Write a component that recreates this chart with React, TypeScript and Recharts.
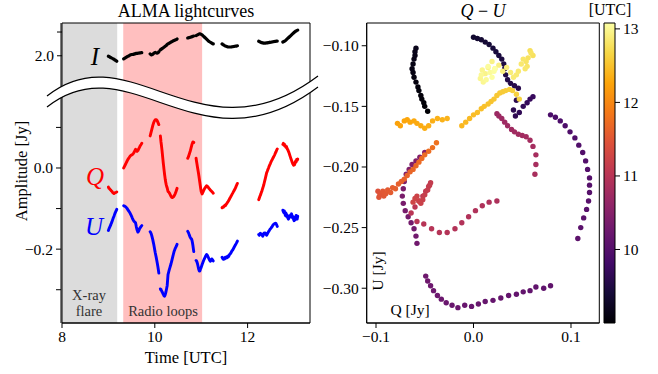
import React from 'react';
import { ComposedChart, ScatterChart, Scatter, Line, XAxis, YAxis, ZAxis, ReferenceArea } from 'recharts';

const SERIF = '"Liberation Serif", "DejaVu Serif", serif';

// UTC hours, one line per scan; the single values between scans are gap rows (null in every Stokes array)
const TIME = [
  9.0, 9.012, 9.024, 9.036, 9.048, 9.06, 9.072, 9.084, 9.096, 9.108, 9.12, 9.132, 9.144, 9.156, 9.168, 9.18,
  9.25,
  9.33, 9.347, 9.364, 9.381, 9.398, 9.415, 9.432, 9.449, 9.466, 9.483, 9.5, 9.517, 9.534, 9.551, 9.568, 9.585, 9.602, 9.619, 9.636, 9.653, 9.67, 9.687, 9.704, 9.72,
  9.8,
  9.9, 9.911, 9.922, 9.933, 9.944, 9.955, 9.966, 9.977, 9.988, 9.999, 10.01, 10.021, 10.032, 10.043, 10.054, 10.065, 10.076, 10.087,
  10.104,
  10.12, 10.127, 10.134, 10.141, 10.148, 10.155, 10.162, 10.169, 10.176, 10.183, 10.19, 10.197, 10.204, 10.211, 10.218, 10.225, 10.232, 10.239, 10.246, 10.253, 10.26, 10.267,
  10.285, 10.298, 10.311, 10.324, 10.337, 10.35, 10.363, 10.376, 10.389, 10.402, 10.415, 10.428, 10.441, 10.454, 10.467, 10.48,
  10.6,
  10.71, 10.719, 10.728, 10.737, 10.746, 10.756, 10.765, 10.774, 10.783, 10.792, 10.801, 10.81, 10.82, 10.83, 10.84,
  10.865,
  10.89, 10.9, 10.91, 10.92, 10.93, 10.94, 10.95, 10.96, 10.97, 10.98, 10.99, 11.0,
  11.02, 11.036, 11.052, 11.068, 11.084, 11.1, 11.116, 11.132, 11.148, 11.164, 11.18, 11.196, 11.212, 11.228, 11.244, 11.26,
  11.35,
  11.45, 11.464, 11.479, 11.493, 11.507, 11.521, 11.536, 11.55, 11.564, 11.579, 11.593, 11.607, 11.621, 11.636, 11.65, 11.664, 11.679, 11.693, 11.707, 11.721, 11.736, 11.75, 11.764, 11.78,
  12.0,
  12.24, 12.251, 12.262, 12.272, 12.283, 12.294, 12.305, 12.315, 12.326, 12.337, 12.348, 12.358, 12.369, 12.38,
  12.41, 12.424, 12.437, 12.451, 12.464, 12.478, 12.491, 12.505, 12.518, 12.532, 12.545, 12.559, 12.572, 12.586, 12.599, 12.613, 12.626, 12.64,
  12.7,
  12.76, 12.771, 12.782, 12.793, 12.804, 12.815, 12.826, 12.837, 12.848, 12.859, 12.87, 12.881, 12.892, 12.903, 12.914,
  12.925, 12.936, 12.947, 12.958, 12.969, 12.98, 12.991, 13.002, 13.013, 13.024, 13.035, 13.046, 13.057, 13.068, 13.08,
];

const STOKES_I = [
  1.998, 1.997, 1.996, 1.994, 1.993, 1.992, 1.99, 1.989, 1.988, 1.986, 1.985, 1.983, 1.982, 1.98, 1.979, 1.977,
  null,
  1.987, 1.989, 1.991, 1.993, 1.995, 1.997, 1.999, 2.001, 2.003, 2.004, 2.005, null, 2.006, 2.007, 2.008, 2.009, 2.01, 2.01, 2.011, 2.011, 2.012, 2.012, 2.013, 2.013,
  null,
  2.008, 2.006, 2.004, 2.004, 2.005, 2.006, 2.008, 2.01, 2.012, 2.013, 2.014, 2.013, 2.012, 2.011, 2.011, 2.012, 2.014, 2.017,
  null,
  2.025, 2.026, 2.027, 2.028, 2.029, 2.03, 2.031, 2.032, 2.033, 2.034, 2.035, 2.036, 2.037, 2.038, 2.039, 2.04, 2.041, 2.042, 2.043, 2.045, 2.046, 2.048,
  2.05, 2.052, 2.053, 2.055, 2.056, 2.058, 2.059, 2.06, 2.062, 2.063, 2.064, 2.065, 2.066, 2.068, 2.069, 2.071,
  null,
  2.075, 2.0755, 2.076, 2.0765, 2.077, 2.0775, 2.078, 2.0785, 2.079, 2.0795, 2.08, 2.081, 2.082, 2.0825, 2.083,
  null,
  2.085, 2.086, 2.087, 2.088, 2.089, 2.09, 2.091, 2.092, 2.092, null, 2.091, 2.09,
  2.088, 2.085, 2.082, 2.079, 2.076, 2.073, 2.07, 2.067, 2.064, 2.061, 2.059, 2.057, 2.055, 2.053, 2.051, 2.05,
  null,
  2.05, 2.048, 2.046, 2.044, 2.042, 2.041, 2.04, 2.039, 2.038, 2.037, 2.037, 2.037, 2.037, 2.037, 2.037, 2.038, 2.038, 2.039, 2.039, 2.04, 2.04, 2.041, 2.041, 2.042,
  null,
  2.061, 2.06, 2.059, 2.058, 2.057, 2.056, 2.055, 2.055, 2.054, 2.054, 2.053, 2.053, 2.053, 2.053,
  2.054, 2.054, 2.055, 2.055, 2.056, 2.056, 2.057, 2.057, 2.058, 2.058, 2.059, 2.059, 2.06, 2.06, 2.061, 2.061, 2.062, 2.062,
  null,
  2.058, 2.059, 2.06, 2.061, null, 2.064, 2.066, 2.068, 2.07, 2.072, 2.074, 2.076, 2.078, 2.08, 2.082,
  2.084, 2.086, 2.088, 2.09, 2.092, 2.094, 2.096, 2.098, 2.1, 2.102, 2.103, 2.104, 2.106, 2.107, 2.108,
];

const STOKES_Q = [
  -0.047, -0.05, -0.051, -0.053, -0.054, -0.056, -0.057, -0.059, -0.061, -0.062, -0.063, -0.062, -0.061, -0.06, -0.06, -0.059,
  null,
  0.0, 0.004, 0.008, 0.012, 0.016, 0.02, 0.023, 0.026, 0.029, 0.031, 0.032, 0.033, 0.035, 0.038, 0.042, 0.046, 0.044, 0.041, 0.043, 0.047, 0.051, 0.055, 0.058, 0.061,
  null,
  0.079, 0.084, 0.089, 0.094, 0.099, 0.104, 0.108, 0.112, 0.115, 0.117, 0.119, 0.119, 0.119, 0.118, 0.116, 0.113, 0.11, 0.107,
  null,
  0.079, 0.072, 0.064, 0.058, 0.051, 0.044, 0.036, 0.028, 0.02, 0.012, 0.005, -0.002, -0.009, -0.016, -0.022, -0.028, -0.033, -0.037, -0.041, -0.044, -0.047, -0.049,
  -0.058, -0.059, -0.061, -0.064, -0.067, -0.07, -0.072, -0.073, -0.072, -0.071, -0.069, -0.066, -0.063, -0.059, -0.055, -0.05,
  null,
  0.024, 0.026, 0.029, 0.032, 0.035, 0.039, 0.042, 0.046, 0.05, 0.054, 0.058, 0.061, 0.064, 0.064, 0.063,
  null,
  0.024, 0.016, 0.009, 0.002, -0.005, -0.012, -0.019, -0.027, -0.035, -0.043, -0.051, -0.058,
  -0.064, -0.06, -0.056, -0.052, -0.049, -0.046, -0.044, -0.045, -0.047, -0.05, -0.052, -0.054, -0.056, -0.058, -0.06, -0.062,
  null,
  -0.098, -0.096, -0.097, -0.094, -0.092, -0.093, -0.09, -0.088, -0.085, -0.083, -0.08, -0.077, -0.074, -0.071, -0.068, -0.065, -0.062, -0.059, -0.056, -0.053, -0.05, -0.046, -0.042, -0.038,
  null,
  -0.078, -0.075, -0.071, -0.068, -0.065, -0.061, -0.058, -0.054, -0.05, -0.046, -0.042, -0.037, -0.032, -0.027,
  -0.012, -0.008, -0.004, 0.0, 0.004, 0.008, 0.011, 0.015, 0.018, 0.021, 0.024, 0.027, 0.03, 0.033, 0.037, 0.04, 0.044, 0.047,
  null,
  0.058, 0.061, 0.056, 0.059, 0.054, 0.055, 0.051, 0.053, 0.049, 0.046, 0.044, 0.041, 0.038, 0.034, 0.03,
  0.026, 0.022, 0.019, 0.015, 0.012, 0.009, 0.007, 0.01, 0.008, 0.013, 0.017, 0.015, 0.021, 0.019, 0.022,
];

const STOKES_U = [
  -0.154, -0.15, -0.147, -0.144, -0.141, -0.137, -0.134, -0.13, -0.126, -0.122, -0.119, -0.115, -0.111, -0.108, -0.105, -0.102,
  null,
  -0.093, -0.094, -0.095, -0.097, -0.099, -0.102, -0.105, -0.108, -0.111, -0.115, -0.119, -0.124, -0.128, -0.131, -0.133, -0.135, -0.145, -0.153, -0.158, -0.155, -0.15, -0.147, -0.144, -0.142,
  null,
  -0.157, -0.159, -0.162, -0.166, -0.171, -0.176, -0.182, -0.188, -0.195, -0.202, -0.209, -0.215, -0.221, -0.228, -0.235, -0.242, -0.25, -0.259,
  null,
  -0.298, -0.3, -0.299, -0.302, -0.303, -0.305, -0.306, -0.308, -0.31, -0.311, -0.313, -0.315, -0.314, -0.316, -0.314, -0.312, -0.309, -0.306, -0.302, -0.298, -0.294, -0.29,
  -0.263, -0.257, -0.251, -0.246, -0.241, -0.236, -0.23, -0.224, -0.218, -0.212, -0.206, -0.202, -0.198, -0.195, -0.192, -0.188,
  null,
  -0.156, -0.158, -0.16, -0.163, -0.166, -0.169, -0.171, -0.173, -0.174, -0.175, -0.178, -0.183, -0.19, -0.198, -0.206,
  null,
  -0.228, -0.229, -0.232, -0.236, -0.241, -0.246, -0.251, -0.254, -0.254, -0.251, -0.247, -0.245,
  -0.238, -0.233, -0.228, -0.224, -0.22, -0.216, -0.213, -0.215, -0.219, -0.223, -0.227, -0.23, -0.228, -0.224, -0.226, -0.229,
  null,
  -0.22, -0.223, -0.225, -0.222, -0.224, -0.22, -0.222, -0.219, -0.221, -0.217, -0.218, -0.214, -0.212, -0.21, -0.207, -0.204, -0.202, -0.199, -0.196, -0.193, -0.19, -0.187, -0.184, -0.18,
  null,
  -0.164, -0.166, -0.162, -0.161, -0.163, -0.162, -0.164, -0.166, -0.168, -0.166, -0.162, -0.16, -0.161, -0.16,
  -0.166, -0.163, -0.16, -0.157, -0.155, -0.152, -0.15, -0.148, -0.146, -0.144, -0.141, -0.139, -0.138, -0.137, -0.136, -0.137, -0.14, -0.144,
  null,
  -0.104, -0.108, -0.11, -0.106, -0.113, -0.117, -0.111, -0.119, -0.115, -0.121, -0.124, -0.126, -0.122, -0.118, -0.121,
  -0.116, -0.119, -0.113, -0.118, -0.123, -0.12, -0.127, -0.13, -0.124, -0.128, -0.122, -0.117, -0.121, -0.126, -0.119,
];

const FLARE_SPAN = [8.0, 9.19];
const LOOPS_SPAN = [9.32, 11.02];

const TIME_TICKS = [8, 10, 12];
const AMP_TICKS = [-0.3, -0.2, -0.1, 0, 0.1];
const AMP_LABELLED = [0, -0.2];
const I_TICKS = [2.0, 2.1];
const Q_TICKS = [-0.1, 0, 0.1];
const U_TICKS = [-0.3, -0.25, -0.2, -0.15, -0.1];
const CBAR_TICKS = [10, 11, 12, 13];

// matplotlib inferno, sampled every 0.1
const INFERNO = ['#000004', '#160b39', '#420a68', '#6a176e', '#932667', '#bc3754',
  '#dd513a', '#f37819', '#fca50a', '#f6d746', '#fcffa4'];

const hexToRgb = (h: string) => [1, 3, 5].map(k => parseInt(h.slice(k, k + 2), 16));
const inferno = (f: number) => {
  const x = Math.min(1, Math.max(0, f)) * (INFERNO.length - 1);
  const i = Math.min(INFERNO.length - 2, Math.floor(x));
  const a = hexToRgb(INFERNO[i]);
  const b = hexToRgb(INFERNO[i + 1]);
  const r = x - i;
  const c = a.map((v, k) => Math.round(v + (b[k] - v) * r));
  return `rgb(${c[0]},${c[1]},${c[2]})`;
};

const rows = TIME.map((t, i) => ({ t, I: STOKES_I[i], Q: STOKES_Q[i], U: STOKES_U[i] }));
const quRows = rows.filter(r => r.Q != null && r.U != null);
const TMIN = Math.min(...quRows.map(r => r.t));
const TMAX = Math.max(...quRows.map(r => r.t));
const quPoints = quRows.map(r => ({ q: r.Q, u: r.U, t: r.t, color: inferno((r.t - TMIN) / (TMAX - TMIN)) }));
const cbarRows = [{ x: 0, y: TMIN }, { x: 1, y: TMAX }];

const fmt = (v: number, d: number) => (v < -1e-9 ? '\u2212' : '') + Math.abs(v).toFixed(d);

const tickStyle = { fill: '#000', fontSize: 15.5, fontFamily: SERIF };
const axisStroke = { stroke: '#000' };

const X_DOMAIN: [number, number] = [8, 13.345];
const AMP_DOMAIN: [number, number] = [-0.382, 0.3573];
const I_DOMAIN: [number, number] = [0.8747, 2.138];
const Q_DOMAIN: [number, number] = [-0.10954, 0.12903];
const U_DOMAIN: [number, number] = [-0.32868, -0.08124];

const Dot = (props: any) => (
  <circle cx={props.cx} cy={props.cy} r={2.7} fill={props.payload.color} />
);

export default function App() {
  return (
    <div style={{ position: 'absolute', left: 0, top: 0, width: 658, height: 374, background: '#fff', fontFamily: SERIF }}>
      {/* lightcurves */}
      <div style={{ position: 'absolute', left: 0, top: 0 }}>
        <ComposedChart width={330} height={374} data={rows} margin={{ top: 23, right: 20, bottom: 21, left: 0 }}>
          <XAxis type="number" dataKey="t" domain={X_DOMAIN} ticks={TIME_TICKS} interval={0} allowDataOverflow
            height={30} tick={tickStyle} tickSize={5} tickMargin={3} axisLine={axisStroke} tickLine={axisStroke} />
          <YAxis yAxisId="i" type="number" domain={I_DOMAIN} ticks={I_TICKS} interval={0} allowDataOverflow
            width={1} axisLine={false} tick={tickStyle} tickSize={5} tickMargin={3} tickLine={axisStroke}
            tickFormatter={(v: number) => (Math.abs(v - 2) < 1e-6 ? '2.0' : '')} />
          <YAxis yAxisId="qu" type="number" domain={AMP_DOMAIN} ticks={AMP_TICKS} interval={0} allowDataOverflow
            width={61} tick={tickStyle} tickSize={5} tickMargin={3} axisLine={axisStroke} tickLine={axisStroke}
            tickFormatter={(v: number) => (AMP_LABELLED.some(a => Math.abs(a - v) < 1e-6) ? fmt(v, 1) : '')} />
          <ReferenceArea yAxisId="qu" x1={FLARE_SPAN[0]} x2={FLARE_SPAN[1]} fill="#dcdcdc" fillOpacity={1} stroke="none" />
          <ReferenceArea yAxisId="qu" x1={LOOPS_SPAN[0]} x2={LOOPS_SPAN[1]} fill="#ffbfbf" fillOpacity={1} stroke="none" />
          <ReferenceArea yAxisId="qu" x1={X_DOMAIN[0]} x2={X_DOMAIN[1]} y1={AMP_DOMAIN[0]} y2={AMP_DOMAIN[1]}
            fill="none" stroke="#000" strokeWidth={1} />
          <Line yAxisId="i" dataKey="I" stroke="#000" strokeWidth={3.2} dot={false} connectNulls={false}
            isAnimationActive={false} strokeLinecap="round" strokeLinejoin="round" />
          <Line yAxisId="qu" dataKey="Q" stroke="#ff0000" strokeWidth={2.9} dot={false} connectNulls={false}
            isAnimationActive={false} strokeLinecap="round" strokeLinejoin="round" />
          <Line yAxisId="qu" dataKey="U" stroke="#0000ff" strokeWidth={2.9} dot={false} connectNulls={false}
            isAnimationActive={false} strokeLinecap="round" strokeLinejoin="round" />
        </ComposedChart>
      </div>

      {/* Q-U plane */}
      <div style={{ position: 'absolute', left: 290, top: 0 }}>
        <ScatterChart width={320} height={374} margin={{ top: 23, right: 10.7, bottom: 21, left: 0 }}>
          <XAxis type="number" dataKey="q" domain={Q_DOMAIN} ticks={Q_TICKS} interval={0} allowDataOverflow
            height={30} tick={tickStyle} tickSize={5} tickMargin={3} axisLine={axisStroke} tickLine={axisStroke}
            tickFormatter={(v: number) => fmt(v, 1)} />
          <YAxis type="number" dataKey="u" domain={U_DOMAIN} ticks={U_TICKS} interval={0} allowDataOverflow
            width={76.7} tick={tickStyle} tickSize={5} tickMargin={3} axisLine={axisStroke} tickLine={axisStroke}
            tickFormatter={(v: number) => fmt(v, 2)} />
          <ZAxis range={[20, 20]} />
          <ReferenceArea x1={Q_DOMAIN[0]} x2={Q_DOMAIN[1]} y1={U_DOMAIN[0]} y2={U_DOMAIN[1]}
            fill="none" stroke="#000" strokeWidth={1} />
          <Scatter data={quPoints} shape={Dot} isAnimationActive={false} />
        </ScatterChart>
      </div>

      {/* colorbar */}
      <div style={{ position: 'absolute', left: 590, top: 0 }}>
        <ComposedChart width={68} height={374} data={cbarRows} margin={{ top: 23, right: 0, bottom: 51, left: 14 }}>
          <defs>
            <linearGradient id="infernoBar" x1="0" y1="1" x2="0" y2="0">
              {INFERNO.map((c, i) => <stop key={c} offset={`${i * 10}%`} stopColor={c} />)}
            </linearGradient>
          </defs>
          <XAxis type="number" dataKey="x" domain={[0, 1]} hide />
          <YAxis type="number" orientation="right" domain={[TMIN, TMAX]} ticks={CBAR_TICKS} interval={0}
            allowDataOverflow width={43} tick={tickStyle} tickSize={5} tickMargin={3} axisLine={false} tickLine={axisStroke} />
          <ReferenceArea x1={0} x2={1} y1={TMIN} y2={TMAX} fill="url(#infernoBar)" fillOpacity={1} stroke="#000" strokeWidth={1} />
          <Line dataKey="y" stroke="none" dot={false} isAnimationActive={false} />
        </ComposedChart>
      </div>

      {/* annotations */}
      <svg width={658} height={374} style={{ position: 'absolute', left: 0, top: 0, pointerEvents: 'none' }}
        fontFamily={SERIF}>
        <path d="M47,96 C130,30 200,165 318,76 L318,87 C200,176 130,41 47,107 Z" fill="#fff" />
        <path d="M47,96 C130,30 200,165 318,76" fill="none" stroke="#000" strokeWidth={1.2} />
        <path d="M47,107 C130,41 200,176 318,87" fill="none" stroke="#000" strokeWidth={1.2} />

        <text x={186} y={17} fontSize={18} textAnchor="middle">ALMA lightcurves</text>
        <text x={483} y={17} fontSize={18} textAnchor="middle">
          <tspan fontStyle="italic">Q</tspan> {'\u2212'} <tspan fontStyle="italic">U</tspan>
        </text>
        <text x={610} y={15} fontSize={16} textAnchor="middle">[UTC]</text>
        <text x={186} y={363} fontSize={16.5} textAnchor="middle">Time [UTC]</text>
        <text transform="translate(27,171) rotate(-90)" fontSize={16.5} textAnchor="middle">Amplitude [Jy]</text>

        <text x={95} y={65} fontSize={25} fontStyle="italic" textAnchor="middle">I</text>
        <text x={95} y={185} fontSize={25} fontStyle="italic" textAnchor="middle" fill="#ff0000">Q</text>
        <text x={94} y={235} fontSize={25} fontStyle="italic" textAnchor="middle" fill="#0000ff">U</text>

        <text x={89} y={300} fontSize={14.5} textAnchor="middle" fill="#333">X-ray</text>
        <text x={89} y={316} fontSize={14.5} textAnchor="middle" fill="#333">flare</text>
        <text x={163} y={316} fontSize={14.5} textAnchor="middle" fill="#333">Radio loops</text>

        <text transform="translate(383,271) rotate(-90)" fontSize={15.5} textAnchor="middle">U [Jy]</text>
        <text x={410} y={315} fontSize={15.5} textAnchor="middle">Q [Jy]</text>
      </svg>
    </div>
  );
}
